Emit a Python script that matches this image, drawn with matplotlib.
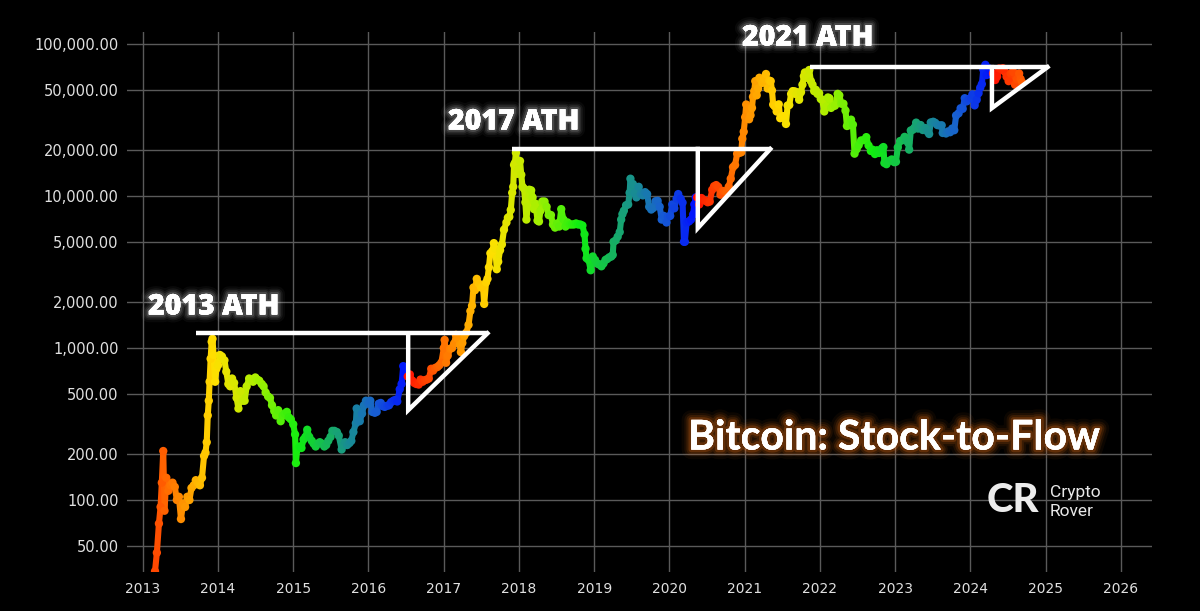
import numpy as np
import pandas as pd
import matplotlib
matplotlib.use("Agg")
import matplotlib.pyplot as plt
import matplotlib.dates as mdates
import matplotlib.patheffects as pe
from matplotlib.colors import LinearSegmentedColormap
from matplotlib.collections import LineCollection
from matplotlib.ticker import FixedLocator, FuncFormatter

# ---------------- data ----------------
dates = [
 "2013-03-01","2013-03-10","2013-03-20","2013-03-28","2013-04-03","2013-04-10","2013-04-16","2013-04-25","2013-05-05","2013-05-15","2013-05-25","2013-06-05","2013-06-15","2013-06-25","2013-07-05","2013-07-15","2013-07-25","2013-08-05","2013-08-15","2013-08-25","2013-09-05","2013-09-15","2013-09-25","2013-10-05","2013-10-15","2013-10-25","2013-11-01","2013-11-07","2013-11-12","2013-11-17","2013-11-21","2013-11-26","2013-12-01","2013-12-05","2013-12-10","2013-12-18","2013-12-24",
 "2014-01-01","2014-01-10","2014-01-20","2014-02-01","2014-02-10","2014-02-20","2014-03-01","2014-03-10","2014-03-20","2014-04-01","2014-04-10","2014-04-20","2014-05-01","2014-05-10","2014-05-20","2014-06-01","2014-06-10","2014-06-20","2014-07-01","2014-07-10","2014-07-20","2014-08-01","2014-08-10","2014-08-20","2014-09-01","2014-09-10","2014-09-20","2014-10-01","2014-10-10","2014-10-20","2014-11-01","2014-11-10","2014-11-20","2014-12-01","2014-12-10","2014-12-20",
 "2015-01-01","2015-01-10","2015-01-14","2015-01-20","2015-02-01","2015-02-10","2015-02-20","2015-03-01","2015-03-10","2015-03-20","2015-04-01","2015-04-10","2015-04-20","2015-05-01","2015-05-10","2015-05-20","2015-06-01","2015-06-10","2015-06-20","2015-07-01","2015-07-10","2015-07-20","2015-08-01","2015-08-10","2015-08-24","2015-09-01","2015-09-10","2015-09-20","2015-10-01","2015-10-10","2015-10-20","2015-11-01","2015-11-05","2015-11-12","2015-11-20","2015-12-01","2015-12-10","2015-12-20",
 "2016-01-01","2016-01-10","2016-01-20","2016-02-01","2016-02-10","2016-02-20","2016-03-01","2016-03-10","2016-03-20","2016-04-01","2016-04-10","2016-04-20","2016-05-01","2016-05-10","2016-05-20","2016-06-01","2016-06-10","2016-06-18","2016-06-25","2016-07-01","2016-07-10","2016-07-20","2016-08-01","2016-08-10","2016-08-20","2016-09-01","2016-09-10","2016-09-20","2016-10-01","2016-10-10","2016-10-20","2016-11-01","2016-11-10","2016-11-20","2016-12-01","2016-12-10","2016-12-20",
 "2017-01-01","2017-01-05","2017-01-12","2017-01-20","2017-02-01","2017-02-10","2017-02-20","2017-03-01","2017-03-10","2017-03-20","2017-03-25","2017-04-01","2017-04-10","2017-04-20","2017-05-01","2017-05-10","2017-05-18","2017-05-25","2017-06-01","2017-06-10","2017-06-20","2017-07-01","2017-07-10","2017-07-16","2017-07-25","2017-08-01","2017-08-08","2017-08-15","2017-08-25","2017-09-01","2017-09-08","2017-09-15","2017-09-22","2017-10-01","2017-10-10","2017-10-20","2017-11-01","2017-11-08","2017-11-15","2017-11-22","2017-11-29","2017-12-04","2017-12-08","2017-12-12","2017-12-17","2017-12-22","2017-12-28",
 "2018-01-06","2018-01-12","2018-01-18","2018-01-25","2018-02-01","2018-02-06","2018-02-12","2018-02-20","2018-03-01","2018-03-08","2018-03-15","2018-03-22","2018-04-01","2018-04-08","2018-04-15","2018-04-24","2018-05-05","2018-05-15","2018-05-25","2018-06-05","2018-06-15","2018-06-25","2018-07-05","2018-07-15","2018-07-25","2018-08-05","2018-08-15","2018-08-25","2018-09-05","2018-09-15","2018-09-25","2018-10-05","2018-10-15","2018-10-25","2018-11-05","2018-11-15","2018-11-20","2018-11-25","2018-12-05","2018-12-15","2018-12-25",
 "2019-01-05","2019-01-15","2019-01-25","2019-02-05","2019-02-15","2019-02-25","2019-03-05","2019-03-15","2019-03-25","2019-04-01","2019-04-05","2019-04-15","2019-04-25","2019-05-05","2019-05-12","2019-05-18","2019-05-25","2019-06-05","2019-06-15","2019-06-22","2019-06-26","2019-07-01","2019-07-08","2019-07-16","2019-07-25","2019-08-05","2019-08-15","2019-08-25","2019-09-05","2019-09-15","2019-09-25","2019-10-05","2019-10-15","2019-10-26","2019-11-05","2019-11-15","2019-11-25","2019-12-05","2019-12-18","2019-12-25",
 "2020-01-05","2020-01-15","2020-01-25","2020-02-05","2020-02-13","2020-02-25","2020-03-05","2020-03-12","2020-03-16","2020-03-25","2020-04-05","2020-04-15","2020-04-25","2020-05-01","2020-05-08","2020-05-15","2020-05-25","2020-06-05","2020-06-15","2020-06-25","2020-07-05","2020-07-15","2020-07-27","2020-08-05","2020-08-15","2020-08-25","2020-09-05","2020-09-15","2020-09-25","2020-10-05","2020-10-15","2020-10-25","2020-11-05","2020-11-15","2020-11-25","2020-12-05","2020-12-15","2020-12-20","2020-12-27",
 "2021-01-03","2021-01-08","2021-01-14","2021-01-22","2021-01-29","2021-02-05","2021-02-10","2021-02-16","2021-02-21","2021-02-28","2021-03-07","2021-03-13","2021-03-20","2021-03-28","2021-04-05","2021-04-14","2021-04-22","2021-04-30","2021-05-07","2021-05-13","2021-05-19","2021-05-26","2021-06-05","2021-06-15","2021-06-22","2021-07-01","2021-07-10","2021-07-20","2021-07-28","2021-08-05","2021-08-14","2021-08-22","2021-09-01","2021-09-07","2021-09-15","2021-09-22","2021-10-01","2021-10-08","2021-10-15","2021-10-20","2021-10-28","2021-11-05","2021-11-10","2021-11-18","2021-11-26","2021-12-04","2021-12-12","2021-12-20","2021-12-28",
 "2022-01-05","2022-01-12","2022-01-22","2022-02-01","2022-02-09","2022-02-16","2022-02-24","2022-03-05","2022-03-15","2022-03-28","2022-04-05","2022-04-15","2022-04-25","2022-05-05","2022-05-12","2022-05-20","2022-06-01","2022-06-10","2022-06-18","2022-06-28","2022-07-08","2022-07-20","2022-08-01","2022-08-14","2022-08-25","2022-09-05","2022-09-13","2022-09-25","2022-10-05","2022-10-15","2022-10-29","2022-11-05","2022-11-10","2022-11-20","2022-12-01","2022-12-15","2022-12-28",
 "2023-01-05","2023-01-14","2023-01-25","2023-02-05","2023-02-16","2023-02-25","2023-03-05","2023-03-10","2023-03-18","2023-03-28","2023-04-05","2023-04-13","2023-04-22","2023-05-05","2023-05-15","2023-05-28","2023-06-08","2023-06-15","2023-06-23","2023-07-05","2023-07-15","2023-07-25","2023-08-05","2023-08-15","2023-08-20","2023-09-05","2023-09-15","2023-09-25","2023-10-05","2023-10-15","2023-10-24","2023-11-05","2023-11-15","2023-11-25","2023-12-05","2023-12-15","2023-12-25",
 "2024-01-05","2024-01-11","2024-01-22","2024-02-01","2024-02-10","2024-02-18","2024-02-26","2024-03-04","2024-03-14","2024-03-20","2024-03-28","2024-04-05","2024-04-13","2024-04-20","2024-04-28","2024-05-01","2024-05-10","2024-05-20","2024-05-30","2024-06-07","2024-06-15","2024-06-25","2024-07-05","2024-07-15","2024-07-25","2024-08-01","2024-08-05","2024-08-15","2024-08-25","2024-09-01","2024-09-08",
]
prices = [
 34,45,70,90,130,210,85,140,115,125,130,122,100,105,75,95,90,105,100,120,125,135,130,125,140,195,205,240,360,450,600,850,1100,1150,900,600,730,
 770,900,880,830,700,580,560,630,590,470,400,520,450,450,560,630,620,600,640,620,610,580,560,510,480,470,420,385,360,390,330,360,370,380,350,340,
 315,270,175,215,225,220,250,260,290,260,245,235,225,235,240,235,225,230,245,260,285,285,280,265,215,230,240,230,237,245,280,320,400,330,330,370,420,450,
 430,450,380,375,380,430,435,415,410,417,420,440,450,455,445,535,580,760,660,670,650,670,610,590,580,575,620,600,615,620,630,730,710,740,750,770,800,
 1000,1130,800,890,990,1000,1070,1220,1150,1050,940,1080,1200,1260,1420,1750,1900,2500,2400,2850,2650,2500,2550,1950,2700,2850,3400,4200,4350,4900,4500,3300,3700,4400,4800,6000,6700,7200,7300,8100,10500,11500,16000,16500,19300,14000,15000,
 17000,13800,11500,11200,9100,7000,8500,11000,10900,9800,8200,8900,6900,6800,8000,9200,9200,8500,7500,7500,6500,6200,6600,6300,8200,7000,6300,6700,6500,6500,6500,6600,6500,6500,6400,5600,4500,3900,3800,3250,4000,
 3800,3600,3550,3450,3600,3800,3850,3950,4000,4100,5000,5100,5400,5800,7000,7600,8000,8700,8800,10500,13000,10600,12000,10500,9800,11500,10300,10100,10600,10300,8500,8150,8350,9250,9300,8500,7000,7400,6700,7300,
 7400,8800,8300,9600,10300,9600,9050,5000,5000,6700,6800,7000,7550,8800,9800,9800,8800,9700,9400,9300,9100,9200,11000,11600,11800,11500,10200,10800,10750,10600,11500,13000,15500,16000,19000,19200,19400,23800,26500,
 33000,40000,38000,32000,34000,38000,45000,49000,57000,46000,51000,60000,58500,55500,59000,63500,51000,57500,57000,49500,40000,39000,36000,40100,32500,33500,33500,29800,39400,39700,47000,49000,48800,46800,48100,43000,48200,54000,61500,65000,60000,61000,67500,57000,54000,49000,50000,47000,47500,
 43500,43000,36000,38500,44500,44000,38000,39000,39300,47000,46000,40500,40500,36500,28900,29200,31800,29500,19000,20300,21600,23200,23300,24400,21500,19800,20200,18900,20000,19200,20600,21000,16500,16200,17000,17400,16700,
 16800,20900,23000,23300,24500,23200,22400,20200,27000,27300,28200,30400,27800,29300,27200,28000,26500,25600,30500,30800,30300,29300,29100,29200,26000,25800,26600,26300,27800,27100,33900,35000,37800,37500,44000,42000,43500,
 44200,46600,39500,43000,47500,51600,54500,68000,73000,62500,69500,67800,63000,64000,63000,58000,61000,69000,68500,69300,66000,61000,57000,64000,65500,64600,54000,58700,64000,58900,56000,
]

halving_dates = ["2012-11-28", "2016-07-09", "2020-05-11", "2024-04-20", "2028-04-01"]

ath_labels = ["2013 ATH", "2017 ATH", "2021 ATH"]
ath_prices = [1250, 20400, 70500]
ath_start = ["2013-09-15", "2017-11-28", "2021-11-16"]
ath_end = ["2017-08-01", "2021-05-05", "2025-01-10"]
retest_dates = ["2016-07-12", "2020-05-18", "2024-04-15"]
retest_prices = [390, 6150, 37900]

y_ticks = [50, 100, 200, 500, 1000, 2000, 5000, 10000, 20000, 50000, 100000]
year_ticks = list(range(2013, 2027))

# ---------------- colours from halving cycle ----------------
d = pd.to_datetime(dates)
p = np.array(prices, dtype=float)
h = pd.to_datetime(halving_dates)
frac = np.zeros(len(d))
for i, t in enumerate(d):
    k = np.searchsorted(h.values, t.to_datetime64(), side="right") - 1
    frac[i] = (t - h[k]) / (h[k + 1] - h[k])

cmap = LinearSegmentedColormap.from_list("cycle", [
    (0.00, "#ff1000"), (0.12, "#ff7000"), (0.29, "#ffe000"),
    (0.45, "#a8f000"), (0.60, "#10ee10"), (0.76, "#189a80"),
    (0.88, "#1860d0"), (1.00, "#0010ff")])

# ---------------- figure ----------------
fig = plt.figure(figsize=(12, 6.11), dpi=100, facecolor="#000000")
ax = fig.add_axes([127/1200, 1-572/611, (1152-127)/1200, (572-32)/611])
ax.set_facecolor("#000000")
ax.set_yscale("log")
ax.set_ylim(33.6, 120000)
ax.set_xlim(mdates.datestr2num("2012-10-16"), mdates.datestr2num("2026-06-01"))

ax.xaxis.set_major_locator(FixedLocator([mdates.datestr2num(f"{y}-01-01") for y in year_ticks]))
ax.xaxis.set_major_formatter(FuncFormatter(lambda v, pos: mdates.num2date(v).strftime("%Y")))
ax.yaxis.set_major_locator(FixedLocator(y_ticks))
ax.yaxis.set_minor_locator(FixedLocator([]))
ax.yaxis.set_major_formatter(FuncFormatter(lambda v, pos: f"{v:,.2f}"))

ax.grid(True, color="#5a5a5a", linewidth=1.0)
ax.set_axisbelow(True)
for s in ax.spines.values():
    s.set_visible(False)
ax.tick_params(axis="both", length=0, colors="#e0e0e0", labelsize=10.5)
ax.tick_params(axis="y", pad=6)
ax.tick_params(axis="x", pad=7, labelsize=10)

xn = mdates.date2num(d)
# thick band joining the dots (daily-looking trace)
segs = np.stack([np.column_stack([xn[:-1], p[:-1]]), np.column_stack([xn[1:], p[1:]])], axis=1)
seg_c = cmap(np.clip((frac[:-1] + frac[1:]) / 2, 0, 1))
lc = LineCollection(segs, colors=seg_c, linewidths=4.4, capstyle="round", joinstyle="round", zorder=3)
ax.add_collection(lc)
ax.scatter(xn, p, c=frac, cmap=cmap, vmin=0, vmax=1, s=36, linewidths=0, zorder=3)

# ATH lines & triangles
for st, en, ap, rd, rp in zip(ath_start, ath_end, ath_prices, retest_dates, retest_prices):
    x0, x1, xr = (mdates.datestr2num(v) for v in (st, en, rd))
    ax.plot([x0, x1], [ap, ap], color="white", lw=3.2, solid_capstyle="butt", zorder=4)
    ax.plot([xr, xr, x1], [ap, rp, ap], color="white", lw=3.2,
            solid_joinstyle="miter", zorder=4)

def glow(color, strength, alphas):
    effs = []
    for lw, a in zip((14, 10, 7, 4), alphas):
        effs.append(pe.withStroke(linewidth=lw * strength, foreground=color, alpha=a))
    effs.append(pe.Normal())
    return effs

ath_pos = [(148, 307), (448, 122), (742, 38)]
for lab, (px, py) in zip(ath_labels, ath_pos):
    fig.text(px/1200, 1-py/611, lab, ha="left", va="center", color="white",
             fontsize=20.5, fontweight=800, family="Open Sans",
             path_effects=glow("white", 0.8, (0.04, 0.06, 0.09, 0.14)))

fig.text(688/1200, 1-438/611, "Bitcoin: Stock-to-Flow", ha="left", va="center",
         color="white", fontsize=29.5, fontweight="bold", family="Lato",
         path_effects=glow("#ff7a1a", 1.0, (0.05, 0.08, 0.12, 0.2)))

# logo
fig.text(1013/1200, 1-501/611, "CR", ha="center", va="center", color="#ececec",
         fontsize=29, fontweight="black", family="Lato")
fig.text(1050/1200, 1-492/611, "Crypto", ha="left", va="center", color="#e8e8e8",
         fontsize=12.5, family="Roboto")
fig.text(1050/1200, 1-511/611, "Rover", ha="left", va="center", color="#e8e8e8",
         fontsize=12.5, family="Roboto")

fig.savefig("out.png", dpi=100, facecolor=fig.get_facecolor())
